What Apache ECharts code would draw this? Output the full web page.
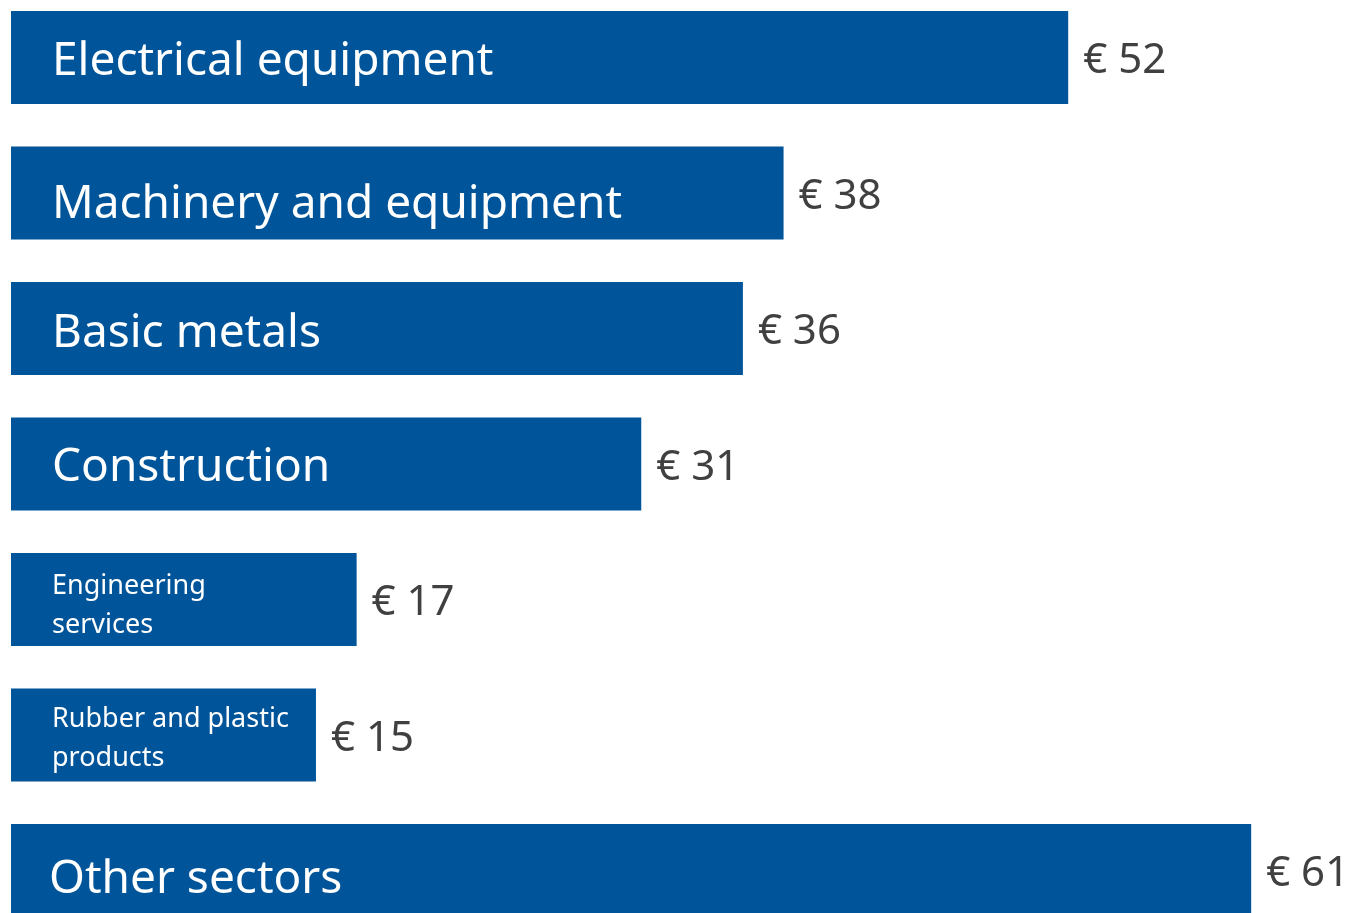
<!DOCTYPE html>
<html>
<head>
<meta charset="utf-8">
<script src="https://cdn.jsdelivr.net/npm/echarts@6/dist/echarts.min.js"></script>
<style>
  html, body { margin: 0; padding: 0; background: #fff; }
  #chart { width: 1352px; height: 913px; }
</style>
</head>
<body>
<div id="chart"></div>
<script>
var sectors = ['Electrical equipment', 'Machinery and equipment', 'Basic metals', 'Construction',
  'Engineering\nservices', 'Rubber and plastic\nproducts', 'Other sectors'];
var amounts = [52, 38, 36, 31, 17, 15, 61];
var smallLabel = [false, false, false, false, true, true, false];

var blue = '#00559A';
var ink = '#404040';
var font = '"Noto Sans"';

// small hand nudges so the names sit where the slide put them
var nudge = [[0, 4], [0, 12], [0, 5], [0, 4], [0, 6], [0, 4], [-3, 9]];

var barData = amounts.map(function(v, i) {
  var lab = smallLabel[i]
    ? { fontSize: 27, lineHeight: 39 }
    : { fontSize: 46, lineHeight: 52 };
  lab.offset = nudge[i];
  return { value: v, label: lab };
});

var chart = echarts.init(document.getElementById('chart'), null, { renderer: 'canvas' });
chart.setOption({
  animation: false,
  grid: { left: 11, right: 19.5, top: -10.25, bottom: -25.25, outerBoundsMode: 'none', containLabel: false },
  xAxis: { type: 'value', min: 0, max: 65, show: false },
  yAxis: { type: 'category', data: sectors, inverse: true, show: false },
  series: [{
    type: 'bar',
    data: barData,
    barWidth: 93,
    itemStyle: { color: blue },
    label: {
      show: true,
      position: 'insideLeft',
      distance: 41,
      color: '#fff',
      fontFamily: font,
      formatter: function(p) { return sectors[p.dataIndex]; }
    }
  }, {
    type: 'bar',
    data: amounts,
    barWidth: 93,
    barGap: '-100%',
    itemStyle: { color: 'transparent' },
    label: {
      show: true,
      position: 'right',
      distance: 15,
      offset: [0, 4],
      color: ink,
      fontFamily: font,
      fontSize: 42,
      formatter: function(p) { return '€ ' + p.value; }
    }
  }]
});
window.addEventListener('resize', function() { chart.resize(); });
</script>
</body>
</html>
